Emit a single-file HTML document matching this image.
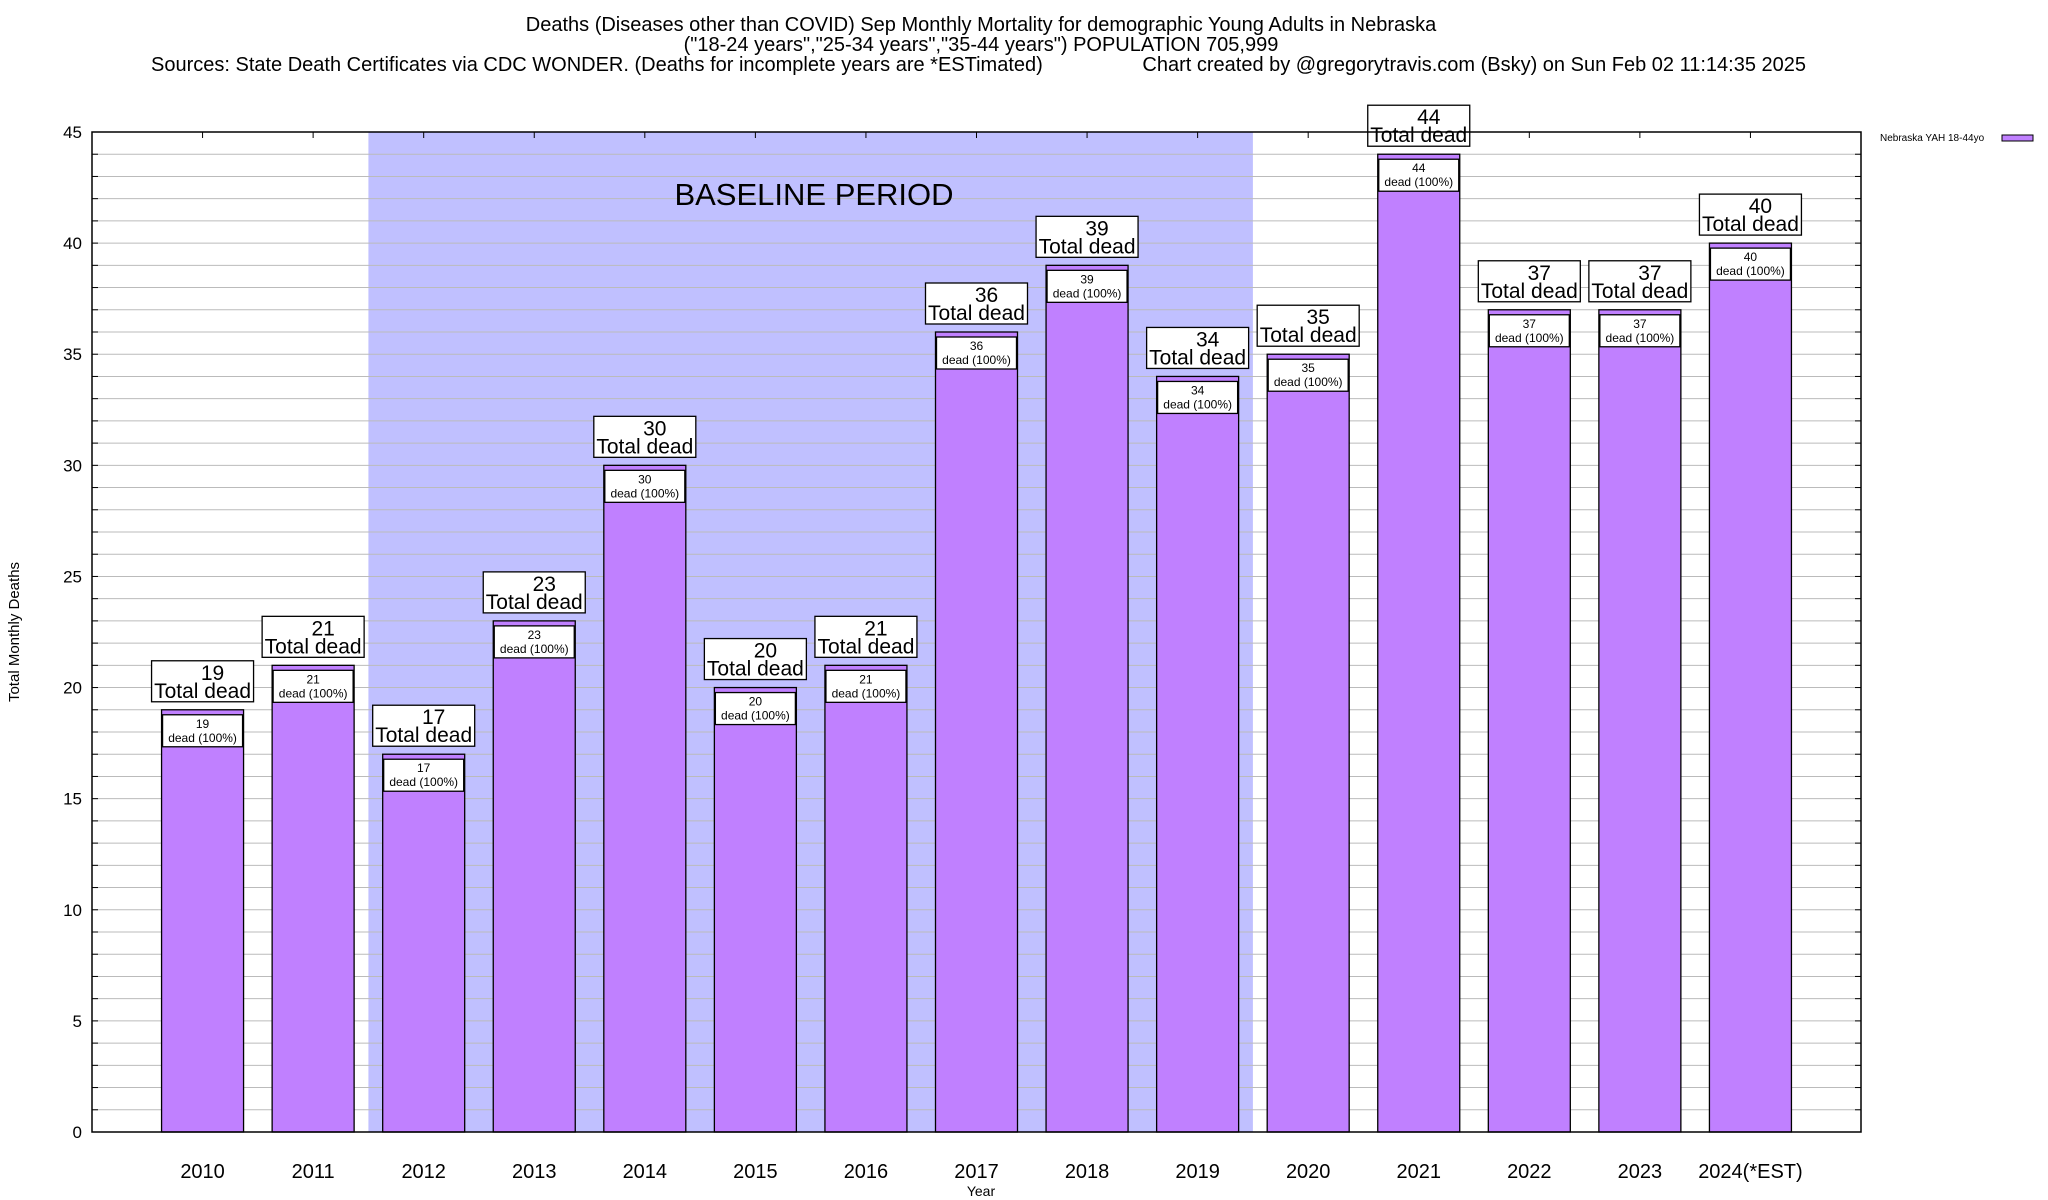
<!DOCTYPE html>
<html><head><meta charset="utf-8"><style>
html,body{margin:0;padding:0;background:#fff;}
svg{display:block;font-family:"Liberation Sans",sans-serif;}
</style></head><body>
<svg id="chart" width="2048" height="1200" viewBox="0 0 2048 1200">
<g font-size="20" text-anchor="middle">
<text x="981" y="31">Deaths (Diseases other than COVID) Sep Monthly Mortality for demographic Young Adults in Nebraska</text>
<text x="981" y="51">("18-24 years","25-34 years","35-44 years") POPULATION 705,999</text>
<text x="151" y="71" text-anchor="start">Sources: State Death Certificates via CDC WONDER. (Deaths for incomplete years are *ESTimated)</text>
<text x="1806" y="71" text-anchor="end">Chart created by @gregorytravis.com (Bsky) on Sun Feb 02 11:14:35 2025</text>
</g>
<g id="plot"></g>
<text x="19" y="632" font-size="15" text-anchor="middle" transform="rotate(-90 19 632)">Total Monthly Deaths</text>
<text x="981" y="1196" font-size="14" text-anchor="middle">Year</text>
<g>
<text x="1880" y="141" font-size="10">Nebraska YAH 18-44yo</text>
<rect x="2002" y="135" width="31" height="6" fill="#c080ff" stroke="#000" stroke-width="1"/>
</g>
</svg>
<script>
const categories = ["2010","2011","2012","2013","2014","2015","2016","2017","2018","2019","2020","2021","2022","2023","2024(*EST)"];
const deaths = [19,21,17,23,30,20,21,36,39,34,35,44,37,37,40];
const yTicks = [0,5,10,15,20,25,30,35,40,45];
const baselineRange = ["2012","2019"];

const L=92,R=1861,T=132,B=1132,YMAX=45;
const slot=(R-L)/16;
const xc=i=>L+slot*(i+1);
const y=v=>B-(B-T)*v/YMAX;
const NS="http://www.w3.org/2000/svg";
const g=document.getElementById('plot');
function mk(tag,attrs,parent,text){const e=document.createElementNS(NS,tag);for(const k in attrs)e.setAttribute(k,attrs[k]);if(text!==undefined)e.textContent=text;(parent||g).appendChild(e);return e;}

const i0=categories.indexOf(baselineRange[0]),i1=categories.indexOf(baselineRange[1]);
const sh=mk('rect',{x:xc(i0)-slot/2,y:T,width:slot*(i1-i0+1),height:B-T,fill:'#c0c0ff'});


for(let v=1;v<YMAX;v++){
  const l=mk('line',{x1:L,x2:R,y1:y(v),y2:y(v),stroke:'#bbbbbb','stroke-width':1});
  
  
  mk('line',{x1:L,x2:L+6,y1:y(v),y2:y(v),stroke:'#000','stroke-width':1});
  mk('line',{x1:R,x2:R-6,y1:y(v),y2:y(v),stroke:'#000','stroke-width':1});
}
const bl=mk('text',{x:814,y:205,'font-size':31,'text-anchor':'middle'},g,'BASELINE PERIOD');


yTicks.forEach(v=>{
  const t=mk('text',{x:82,y:y(v)+6,'font-size':17,'text-anchor':'end'},g,String(v));
  
  
});
const bw=82;
deaths.forEach((d,i)=>{
  const cx=xc(i),top=y(d);
  mk('line',{x1:cx,x2:cx,y1:T,y2:T+6,stroke:'#000','stroke-width':1});
  const b=mk('rect',{x:cx-bw/2,y:top,width:bw,height:B-top,fill:'#c080ff',stroke:'#000','stroke-width':1.3});
  
  
  const ib=mk('g',{});
  
  
  mk('rect',{x:cx-40,y:top+5,width:80,height:32,fill:'#fff',stroke:'#000','stroke-width':1.3},ib);
  mk('text',{x:cx,y:top+18,'font-size':12,'text-anchor':'middle'},ib,String(d));
  mk('text',{x:cx,y:top+32,'font-size':12,'text-anchor':'middle'},ib,'dead (100%)');
  const ob=mk('g',{});
  
  
  mk('rect',{x:cx-51,y:top-49,width:102,height:41,fill:'#fff',stroke:'#000','stroke-width':1.3},ob);
  mk('text',{x:cx+10,y:top-30,'font-size':21,'text-anchor':'middle'},ob,String(d));
  mk('text',{x:cx,y:top-12,'font-size':21,'text-anchor':'middle'},ob,'Total dead');
  const xl=mk('text',{x:cx,y:1178,'font-size':20,'text-anchor':'middle'},g,categories[i]);
  
  
});
const fr=mk('rect',{x:L,y:T,width:R-L,height:B-T,fill:'none',stroke:'#000','stroke-width':1.5});


</script>
</body></html>
